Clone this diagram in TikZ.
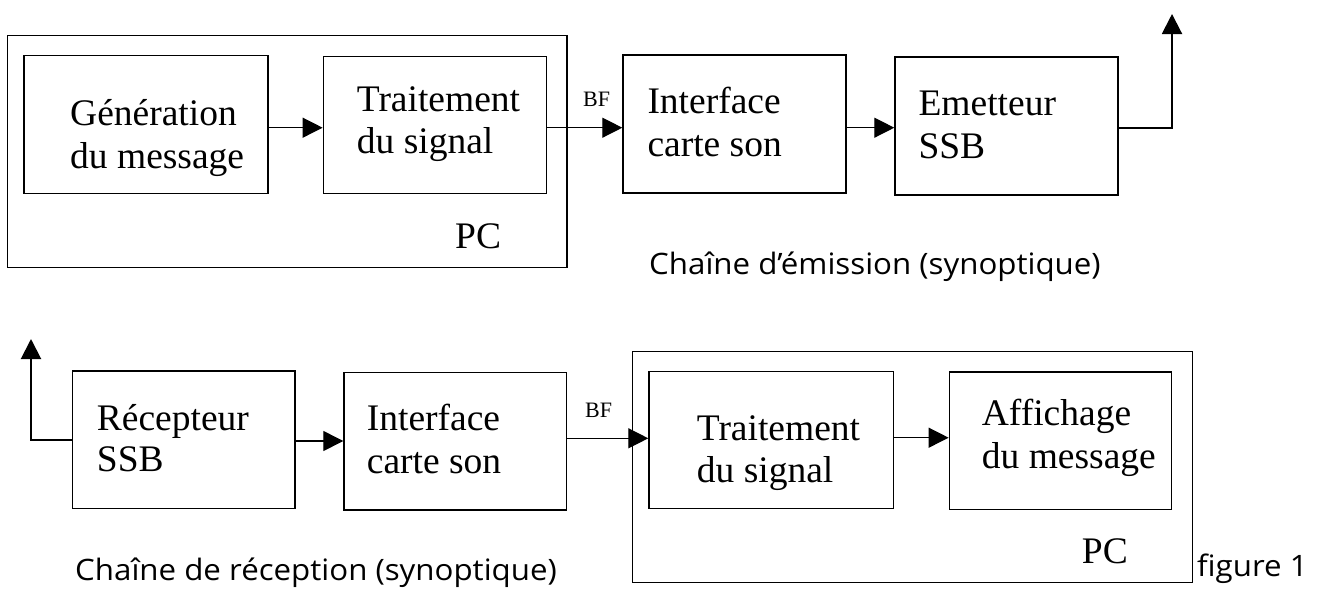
\documentclass[tikz,border=0pt]{standalone}
\usepackage{fontspec}
\setmainfont{Liberation Serif}
\newfontfamily\capfont[FakeStretch=1.06]{Open Sans}
\usetikzlibrary{arrows.meta}
\begin{document}
\begin{tikzpicture}[x=1pt,y=-1pt,
  blk/.style={draw, line width=1.4pt, inner sep=0pt},
  txt/.style={anchor=base west, inner sep=0pt, font=\fontsize{37.5}{42}\selectfont},
  small/.style={anchor=base west, inner sep=0pt, font=\fontsize{22}{26}\selectfont},
  captxt/.style={anchor=base west, inner sep=0pt, font=\capfont\fontsize{29.5}{32}\selectfont},
  arr/.style={line width=1.3pt, -{Triangle[length=20pt,width=20pt]}},
  ant/.style={line width=2pt, -{Triangle[length=20pt,width=20pt]}}]
\useasboundingbox (0,0) rectangle (1337,592);
% ---- top row ----
\node[blk, minimum width=559.5pt, minimum height=232pt] (pcA) at (287.25,151.7) {};
\node[blk, minimum width=244pt, minimum height=137.8pt] (gen) at (146,124.6) {};
\node[blk, minimum width=223.4pt, minimum height=136.6pt] (trA) at (435,125) {};
\node[blk, minimum width=223pt, minimum height=138pt] (ifA) at (734.5,124) {};
\node[blk, minimum width=223pt, minimum height=138pt] (em) at (1006.5,126) {};
\coordinate (yA) at (0,127.7);
\coordinate (antT) at (1172,14);
\node[txt] (t1) at (70,125.7) {Génération};
\node[txt] (t2) at (70,168.3) {du message};
\node[txt] (t3) at (356.7,111.7) {Traitement};
\node[txt] (t4) at (356.7,153.3) {du signal};
\node[txt] (t5) at (647.3,113.3) {Interface};
\node[txt] (t6) at (647.3,156.7) {carte son};
\node[txt] (t7) at (918.3,115) {Emetteur};
\node[txt] (t8) at (918.3,158.3) {SSB};
\node[txt] (pcAl) at (455,248.3) {PC};
\node[small] (bfA) at (583,106) {BF};
\node[captxt] (capA) at (649,274) {Chaîne d’émission (synoptique)};
\draw[arr] (gen.east |- yA) -- (trA.west |- yA);
\draw[arr] (trA.east |- yA) -- (ifA.west |- yA);
\draw[arr] (ifA.east |- yA) -- (em.west |- yA);
\draw[ant] (em.east |- yA) -- (antT |- yA) -- (antT);
% ---- bottom row ----
\node[blk, minimum width=222.7pt, minimum height=137.3pt] (rec) at (183.65,439.65) {};
\node[blk, minimum width=222.7pt, minimum height=137.3pt] (ifB) at (455.35,441.35) {};
\node[blk, minimum width=559.8pt, minimum height=231pt] (pcB) at (912.4,467.2) {};
\node[blk, minimum width=244.3pt, minimum height=137.2pt] (trB) at (771.15,440.1) {};
\node[blk, minimum width=222.4pt, minimum height=137.3pt] (aff) at (1060.5,440.65) {};
\coordinate (yB0) at (0,440);
\coordinate (yB1) at (0,441);
\coordinate (yB2) at (0,438.3);
\coordinate (yB3) at (0,437.7);
\coordinate (antR) at (31,339);
\node[txt] (b1) at (96.7,430) {Récepteur};
\node[txt] (b2) at (96.7,471.7) {SSB};
\node[txt] (b3) at (366.7,430) {Interface};
\node[txt] (b4) at (366.7,473) {carte son};
\node[txt] (b5) at (696.7,440) {Traitement};
\node[txt] (b6) at (696.7,482.7) {du signal};
\node[txt] (b7) at (981.7,425) {Affichage};
\node[txt] (b8) at (981.7,468.3) {du message};
\node[txt] (pcBl) at (1081.7,563.3) {PC};
\node[small] (bfB) at (585,417.3) {BF};
\node[captxt] (capB) at (75,580) {Chaîne de réception (synoptique)};
\node[captxt] (fig) at (1197,576.7) {figure 1};
\draw[ant] (rec.west |- yB0) -- (antR |- yB0) -- (antR);
\draw[arr] (rec.east |- yB1) -- (ifB.west |- yB1);
\draw[arr] (ifB.east |- yB2) -- (trB.west |- yB2);
\draw[arr] (trB.east |- yB3) -- (aff.west |- yB3);
\end{tikzpicture}
\end{document}
